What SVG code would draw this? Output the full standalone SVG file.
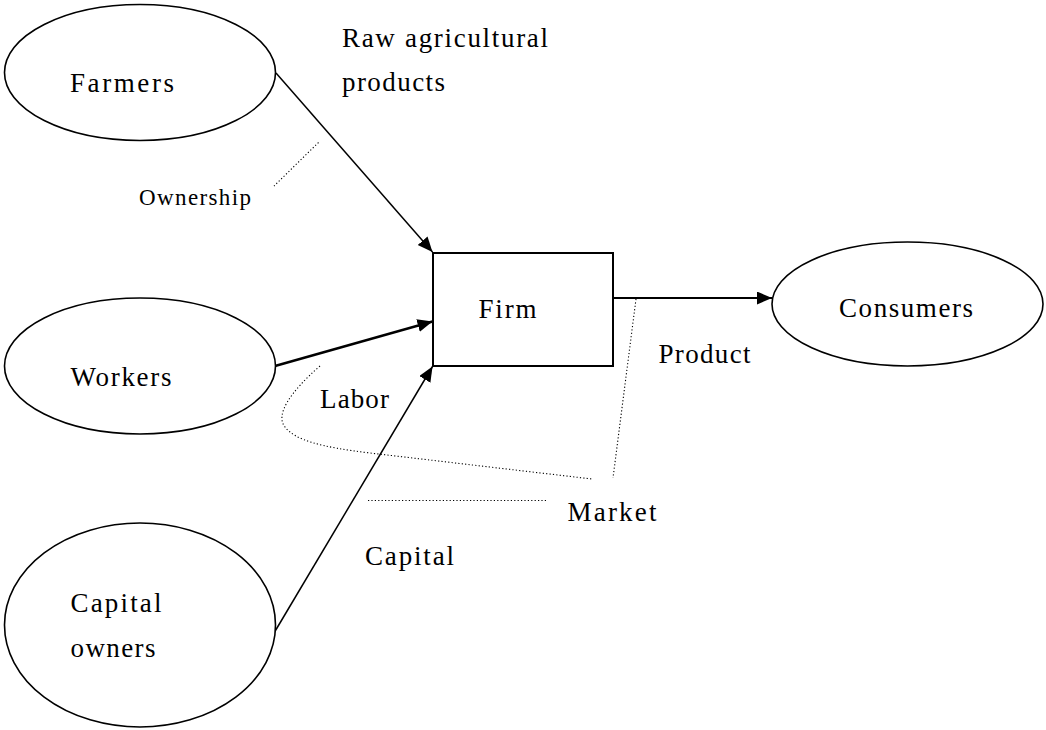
<svg xmlns="http://www.w3.org/2000/svg" width="1046" height="730" viewBox="0 0 1046 730">
  <style>
    .node { fill: #ffffff; stroke: #000000; stroke-width: 1.6; }
    .lbl { font-family: "Liberation Serif", "DejaVu Serif", serif; font-size: 27px; fill: #000000; }
    .small { font-size: 23px; }
    .edge { fill: none; stroke: #000000; stroke-width: 1.5; }
    .dot { fill: none; stroke: #000000; stroke-width: 1.1; stroke-dasharray: 1.2 2.2; }
  </style>
  <defs>
    <marker id="arrow" markerUnits="userSpaceOnUse" markerWidth="16" markerHeight="14" refX="15" refY="6.5" orient="auto">
      <path d="M0,0 L15,6.5 L0,13 z" fill="#000000"/>
    </marker>
  </defs>
  <rect width="1046" height="730" fill="#ffffff"/>

  <g id="connectors">
    <line class="edge" x1="276" y1="73" x2="432.5" y2="252" marker-end="url(#arrow)"/>
    <line class="edge" style="stroke-width:2.4" x1="275" y1="366" x2="432.5" y2="321.5" marker-end="url(#arrow)"/>
    <line class="edge" x1="274" y1="633" x2="432.5" y2="366.5" marker-end="url(#arrow)"/>
    <line class="edge" style="stroke-width:2" x1="613" y1="298" x2="772" y2="298" marker-end="url(#arrow)"/>
    <line class="dot" x1="318.5" y1="142.5" x2="274" y2="186"/>
    <path class="dot" d="M320,366 C290,392 275,415 285,427 C295,440 320,447 370,453 L592,479"/>
    <line class="dot" x1="636" y1="299" x2="613" y2="478"/>
    <line class="dot" x1="368" y1="500.5" x2="547" y2="500.5"/>
  </g>

  <g id="farmers">
    <ellipse class="node" cx="140" cy="72.5" rx="135.5" ry="68"/>
    <text class="lbl" x="70" y="92" textLength="104" lengthAdjust="spacing">Farmers</text>
  </g>
  <g id="workers">
    <ellipse class="node" cx="140" cy="366" rx="135.5" ry="68"/>
    <text class="lbl" x="70.5" y="386" textLength="101" lengthAdjust="spacing">Workers</text>
  </g>
  <g id="capital-owners">
    <ellipse class="node" cx="140" cy="625" rx="135.5" ry="102"/>
    <text class="lbl" x="70.5" y="612" textLength="91" lengthAdjust="spacing">Capital</text>
    <text class="lbl" x="70.5" y="657" textLength="85" lengthAdjust="spacing">owners</text>
  </g>
  <g id="firm">
    <rect class="node" style="stroke-width:2" x="433" y="253" width="180" height="113"/>
    <text class="lbl" x="478.5" y="318" textLength="58" lengthAdjust="spacing">Firm</text>
  </g>
  <g id="consumers">
    <ellipse class="node" cx="907.5" cy="304" rx="135.5" ry="62"/>
    <text class="lbl" x="839" y="317" textLength="134" lengthAdjust="spacing">Consumers</text>
  </g>

  <g id="labels">
    <text class="lbl" x="342" y="47" textLength="206" lengthAdjust="spacing">Raw agricultural</text>
    <text class="lbl" x="342" y="91" textLength="103" lengthAdjust="spacing">products</text>
    <text class="lbl small" x="139" y="205" textLength="112" lengthAdjust="spacing">Ownership</text>
    <text class="lbl" x="320" y="408" textLength="69" lengthAdjust="spacing">Labor</text>
    <text class="lbl" x="658.5" y="362.5" textLength="92" lengthAdjust="spacing">Product</text>
    <text class="lbl" x="567.5" y="521" textLength="89" lengthAdjust="spacing">Market</text>
    <text class="lbl" x="365" y="565" textLength="89" lengthAdjust="spacing">Capital</text>
  </g>
</svg>
